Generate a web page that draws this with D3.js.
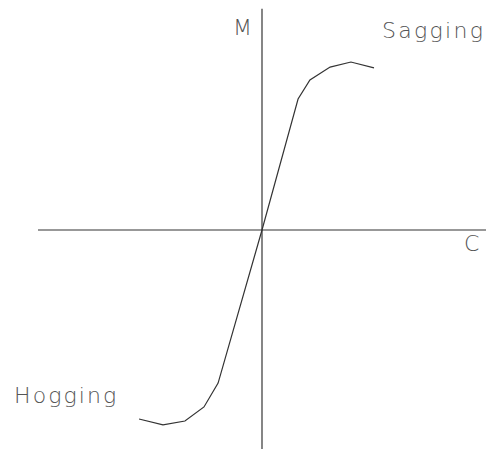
<!DOCTYPE html>
<html>
<head>
<meta charset="utf-8">
<script src="https://cdn.jsdelivr.net/npm/d3@7"></script>
<style>
  html, body { margin: 0; padding: 0; background: #fff; }
  #chart { width: 493px; height: 449px; }
</style>
</head>
<body>
<div id="chart"></div>
<script>
// curvature C (x) and moment M (y), normalised units
const curvature = [-0.549, -0.442, -0.344, -0.259, -0.196, 0, 0.161, 0.214, 0.304, 0.397, 0.500];
const moment    = [-0.863, -0.890, -0.872, -0.808, -0.699, 0, 0.598, 0.685, 0.744, 0.767, 0.740];
const axisLabels = { x: 'C', y: 'M' };
const regionLabels = ['Sagging', 'Hogging'];

const width = 493, height = 449;

const svg = d3.select('#chart').append('svg')
    .attr('width', width)
    .attr('height', height);

// origin sits at (262, 230)
const x = d3.scaleLinear().domain([-1, 1]).range([38, 486]);
const y = d3.scaleLinear().domain([-1, 1]).range([449, 11]);

// axes through the origin
svg.append('line')
    .attr('x1', x(-1)).attr('x2', x(1))
    .attr('y1', y(0)).attr('y2', y(0))
    .attr('stroke', '#333')
    .attr('stroke-width', 1.1);

svg.append('line')
    .attr('x1', x(0)).attr('x2', x(0))
    .attr('y1', y(1.01)).attr('y2', y(-1))
    .attr('stroke', '#222')
    .attr('stroke-width', 1.1);

const points = curvature.map((c, i) => ({ c, m: moment[i] }));

const line = d3.line()
    .x(d => x(d.c))
    .y(d => y(d.m));

svg.append('path')
    .datum(points)
    .attr('fill', 'none')
    .attr('stroke', '#333')
    .attr('stroke-width', 1.2)
    .attr('d', line);

const labelStyle = sel => sel
    .style('font-family', 'DejaVu Sans, sans-serif')
    .style('font-weight', '200')
    .style('font-size', '22px')
    .style('fill', '#555');

svg.append('text')
    .attr('x', 233).attr('y', 35)
    .call(labelStyle)
    .text(axisLabels.y);

svg.append('text')
    .attr('x', 464).attr('y', 251)
    .call(labelStyle)
    .text(axisLabels.x);

svg.append('text')
    .attr('x', 382).attr('y', 38)
    .call(labelStyle)
    .style('letter-spacing', '2.3px')
    .text(regionLabels[0]);

svg.append('text')
    .attr('x', 14).attr('y', 403)
    .call(labelStyle)
    .style('letter-spacing', '2.1px')
    .text(regionLabels[1]);
</script>
</body>
</html>
